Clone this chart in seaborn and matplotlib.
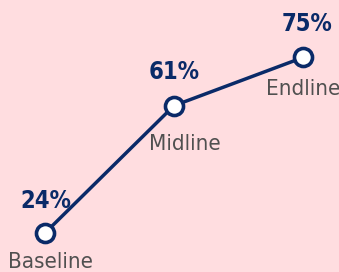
import matplotlib
matplotlib.use("Agg")
import matplotlib.pyplot as plt
from matplotlib import font_manager
import seaborn as sns
import pandas as pd

# chart data
stages = ["Baseline", "Midline", "Endline"]
values = [24, 61, 75]
pct_labels = ["24%", "61%", "75%"]

# label offsets in pixels (pct above, stage name below)
pct_offsets = [(1, 25), (0, 27), (4, 26)]
stage_offsets = [(5, -19), (11, -28), (0, -22)]

navy = "#0A2A68"
pink = "#FFDDE0"
grey = "#505050"

sns.set_style("white")
plt.rcParams["font.family"] = ["DejaVu Sans", "Liberation Sans"]
print(sorted({f.name + " / " + str(f.stretch) for f in font_manager.fontManager.ttflist if "DejaVu" in f.name or "Narrow" in f.name or "Condensed" in f.name}))

df = pd.DataFrame({"stage": stages, "value": values})
df["x"] = range(len(df))

fig = plt.figure(figsize=(3.39, 2.72), dpi=100, facecolor=pink)
ax = fig.add_axes([0, 0, 1, 1])
ax.set_facecolor(pink)

sns.lineplot(data=df, x="x", y="value", ax=ax, color=navy, linewidth=2.5,
             marker="o", markersize=13, markerfacecolor="white",
             markeredgecolor=navy, markeredgewidth=2.6)

for i, row in df.iterrows():
    ax.annotate(pct_labels[i], (row["x"], row["value"]), xytext=pct_offsets[i],
                textcoords="offset pixels", ha="center", va="baseline",
                fontsize=17, fontweight="bold", fontstretch="condensed", color=navy)
    ax.annotate(row["stage"], (row["x"], row["value"]), xytext=stage_offsets[i],
                textcoords="offset pixels", ha="center", va="top",
                fontsize=16, fontstretch="condensed", color=grey)

ax.set_xlim(-0.349, 2.279)
ax.set_ylim(12.66, 91.7)
ax.axis("off")

fig.savefig("out.png", dpi=100, facecolor=pink)
